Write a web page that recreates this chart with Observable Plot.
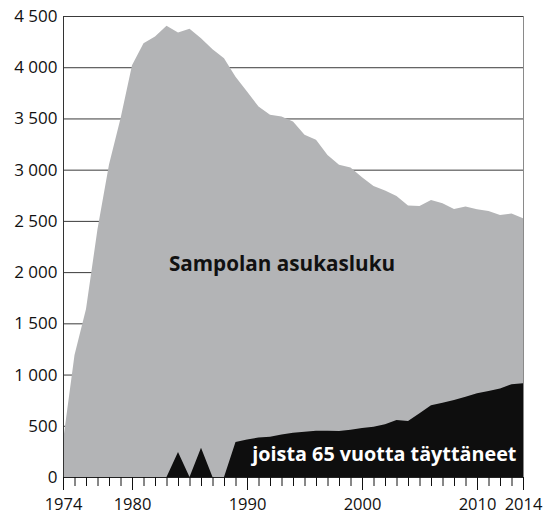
<!DOCTYPE html>
<html><head><meta charset="utf-8">
<script src="https://cdn.jsdelivr.net/npm/d3@7"></script>
<script src="https://cdn.jsdelivr.net/npm/@observablehq/plot@0.6"></script>
<style>body{margin:0;background:#fff}</style>
</head><body><div id="chart"></div>
<script>
const years = [1974,1975,1976,1977,1978,1979,1980,1981,1982,1983,1984,1985,1986,1987,1988,1989,1990,1991,1992,1993,1994,1995,1996,1997,1998,1999,2000,2001,2002,2003,2004,2005,2006,2007,2008,2009,2010,2011,2012,2013,2014];
const total = [350,1190,1640,2420,3050,3500,4020,4235,4300,4404,4338,4375,4283,4175,4087,3908,3762,3616,3535,3518,3470,3340,3291,3144,3047,3020,2926,2841,2796,2744,2650,2646,2705,2673,2617,2640,2614,2597,2558,2571,2526];
const seniors = [0,0,0,0,0,0,0,0,0,0,245,0,285,0,0,342,365,385,394,414,432,442,452,452,450,462,478,491,514,557,547,622,700,726,752,784,817,840,863,905,915];
const yTicks = [0,500,1000,1500,2000,2500,3000,3500,4000,4500];
const xLabelTicks = [1974,1980,1990,2000,2010,2014];
const labelTotal = "Sampolan asukasluku";
const labelSeniors = "joista 65 vuotta täyttäneet";

const data = years.map((y, i) => ({year: y, total: total[i], seniors: seniors[i]}));
const fmt = d => d >= 1000 ? `${Math.floor(d / 1000)} ${String(d % 1000).padStart(3, "0")}` : String(d);

const chart = Plot.plot({
  width: 549, height: 515,
  marginLeft: 63, marginRight: 26, marginTop: 16, marginBottom: 38,
  style: {fontFamily: "'Open Sans', sans-serif", fontSize: "16px", color: "#111", background: "#fff"},
  x: {domain: [1974, 2014]},
  y: {domain: [0, 4500]},
  marks: [
    Plot.gridY(yTicks, {stroke: "#3a3a3a", strokeOpacity: 1}),
    Plot.areaY(data, {x: "year", y: "total", fill: "#b3b4b6"}),
    Plot.areaY(data, {x: "year", y: "seniors", fill: "#0e0e0e"}),
    Plot.ruleX([2014], {stroke: "#8a8a8a"}),
    Plot.ruleX([1974], {stroke: "#333"}),
    Plot.ruleY([0], {stroke: "#222"}),
    Plot.axisY(yTicks, {tickSize: 0, tickPadding: 6, tickFormat: fmt, fontSize: 17, label: null}),
    Plot.axisX(years, {tickSize: 9, tickFormat: () => "", label: null, stroke: "#111"}),
    Plot.axisX(xLabelTicks, {tickSize: 13, tickPadding: 8, tickFormat: d => String(d), fontSize: 16.5, label: null, stroke: "#111"}),
    Plot.text([labelTotal], {x: 1993, y: 2080, text: d => d, fontWeight: "bold", fontSize: 20.7, fill: "#111"}),
    Plot.text([labelSeniors], {x: 2001.9, y: 225, text: d => d, fontWeight: "bold", fontSize: 19.8, fill: "#fff"})
  ]
});
document.getElementById("chart").appendChild(chart);
</script>
</body></html>
